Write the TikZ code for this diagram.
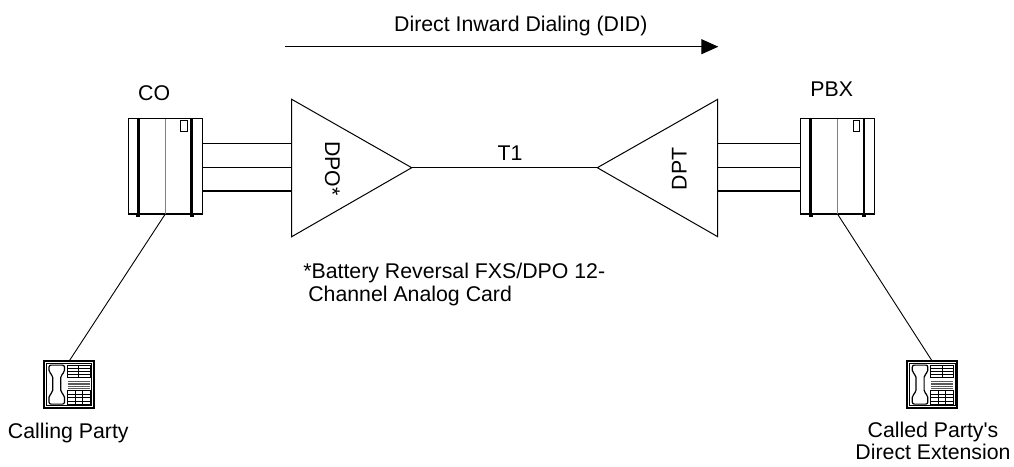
\documentclass[tikz,border=0pt]{standalone}
\usepackage{fontspec}
\setmainfont{Liberation Sans}
\usetikzlibrary{arrows.meta}
\tikzset{
  lbl/.style={font=\fontsize{21.3}{23}\selectfont, inner sep=0pt, outer sep=0pt},
  cabinet/.style={draw, line width=1.5pt, minimum width=74pt, minimum height=95.3pt, inner sep=0pt, outer sep=0pt},
  thinline/.style={line width=0.9pt},
  wire/.style={line width=1.2pt},
  tri/.style={draw, line width=1pt},
  phonebox/.style={draw, line width=1.8pt, minimum width=50pt, minimum height=46.7pt, inner sep=0pt, outer sep=0pt},
  cabdetail/.pic={
    \draw[line width=2.6pt] (-27,-47.6) -- (-27,47.6);
    \draw[line width=2.6pt] (26.4,-47.6) -- (26.4,47.6);
    \draw[gray, line width=0.8pt] (0,-47.6) -- (0,47.6);
    \draw[line width=0.8pt] (15.4,-45.6) rectangle (21.8,-35.3);
    \fill (-29,47.6) rectangle (-25,50.6);
    \fill (24.4,47.6) rectangle (28.4,50.6);
  },
  phonedetail/.pic={
    \draw[line width=0.7pt] (2.2,2.2) rectangle (47.8,44.5);
    \draw[line width=1.2pt, rounded corners=2pt] (5,3.8) -- (20.5,3.8) -- (20.5,11) -- (16.8,14) -- (16.8,31) -- (20.5,34) -- (20.5,42.8) -- (5,42.8) -- (5,34) -- (8.7,31) -- (8.7,14) -- (5,11) -- cycle;
    \draw[line width=0.7pt] (23.5,3.8) rectangle (46,16.5);
    \draw[line width=0.7pt] (34.75,3.8) -- (34.75,16.5);
    \foreach \yy in {7,10.2,13.4} {\draw[line width=0.7pt] (23.5,\yy) -- (46,\yy);}
    \foreach \yy in {20,21.7,23.4,25.1,26.8} {\draw[line width=0.6pt, gray!70!black] (23.5,\yy) -- (46,\yy);}
    \draw[line width=0.7pt] (23.5,29.5) rectangle (46,43.5);
    \foreach \xx in {31,38.5} {\draw[line width=0.7pt] (\xx,29.5) -- (\xx,43.5);}
    \foreach \yy in {33,36.5,40} {\draw[line width=0.7pt] (23.5,\yy) -- (46,\yy);}
  }
}
\begin{document}
\begin{tikzpicture}[x=1pt, y=-1pt]
  \useasboundingbox (0,0) rectangle (1014,466);

  % top arrow
  \coordinate (arrS) at (285,46.7);
  \coordinate (arrE) at (718.3,46.7);
  \draw[wire, -{Triangle[length=17pt,width=15pt]}] (arrS) -- (arrE);
  \node[lbl, anchor=base] (did) at (520.8,31) {Direct Inward Dialing (DID)};

  % cabinets
  \node[cabinet] (co) at (165.3,166.35) {};
  \pic at (co.center) {cabdetail};
  \node[lbl, anchor=base] (colbl) at (154.2,100) {CO};

  \node[cabinet] (pbx) at (837.5,166.35) {};
  \pic at (pbx.center) {cabdetail};
  \node[lbl, anchor=base] (pbxlbl) at (831.7,96) {PBX};

  % triangles
  \coordinate (dpoT) at (291.7,99.3);
  \coordinate (dpoB) at (291.7,236.7);
  \coordinate (dpoA) at (411.7,167.7);
  \draw[tri] (dpoT) -- (dpoA) -- (dpoB) -- cycle;
  \node[lbl, rotate=-90, anchor=base] (dpolbl) at (325,168.3) {DPO*};

  \coordinate (dptT) at (717.7,99.3);
  \coordinate (dptB) at (717.7,236.7);
  \coordinate (dptA) at (597.3,167.7);
  \draw[tri] (dptT) -- (dptA) -- (dptB) -- cycle;
  \node[lbl, rotate=90, anchor=base] (dptlbl) at (686.7,169) {DPT};

  % wires cabinet to triangles
  \coordinate (dpoL1) at (291.7,143.3);
  \coordinate (dpoL2) at (291.7,167.3);
  \coordinate (dpoL3) at (291.7,191);
  \coordinate (dptR1) at (717.7,143.3);
  \coordinate (dptR2) at (717.7,167.3);
  \coordinate (dptR3) at (717.7,191);
  \foreach \c in {dpoL1,dpoL2,dpoL3} {\draw[wire] (co.east |- \c) -- (\c);}
  \foreach \c in {dptR1,dptR2,dptR3} {\draw[wire] (\c) -- (pbx.west |- \c);}

  % T1 trunk
  \draw[wire] (dpoA) -- (dptA);
  \node[lbl, anchor=base] (t1) at (510,160) {T1};

  % footnote
  \node[lbl, anchor=base west] (bat1) at (303.3,278.3) {*Battery Reversal FXS/DPO 12-};
  \node[lbl, anchor=base west] (bat2) at (308.3,301.7) {Channel Analog Card};

  % phones
  \node[phonebox] (lphone) at (69,384.65) {};
  \pic at (lphone.north west) {phonedetail};
  \node[phonebox] (rphone) at (932.3,384.65) {};
  \pic at (rphone.north west) {phonedetail};

  \draw[thinline] (co.south) -- (lphone.north);
  \draw[thinline] (pbx.south) -- (rphone.north);

  \node[lbl, anchor=base] (calling) at (68.3,438) {Calling Party};
  \node[lbl, anchor=base] (called1) at (933,437) {Called Party\textquotesingle s};
  \node[lbl, anchor=base] (called2) at (933,459.5) {Direct Extension};
\end{tikzpicture}
\end{document}
